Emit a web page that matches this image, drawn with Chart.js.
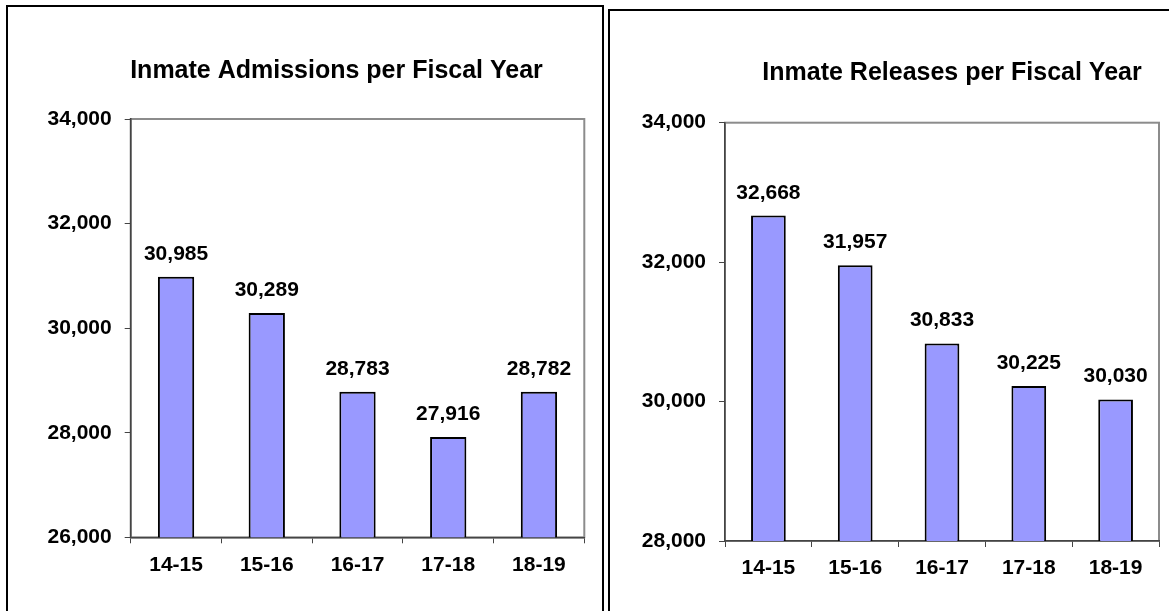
<!DOCTYPE html>
<html>
<head>
<meta charset="utf-8">
<script src="https://cdn.jsdelivr.net/npm/chart.js@4.4.1/dist/chart.umd.min.js"></script>
<style>
  html, body { margin: 0; padding: 0; background: #fff; width: 1169px; height: 611px; overflow: hidden; position: relative; }
  .box { position: absolute; border: 2px solid #000; box-sizing: border-box; }
  #boxL { left: 6px; top: 5px; width: 598px; height: 700px; }
  #boxR { left: 608px; top: 9px; width: 700px; height: 700px; }
  .wrap { position: absolute; }
  #wrapL { left: 8px; top: 8px; width: 592px; height: 603px; }
  #wrapR { left: 611px; top: 11px; width: 558px; height: 600px; }
</style>
</head>
<body>
<div class="box" id="boxL"></div>
<div class="box" id="boxR"></div>
<div class="wrap" id="wrapL"><canvas id="cL"></canvas></div>
<div class="wrap" id="wrapR"><canvas id="cR"></canvas></div>
<script>
const categories = ['14-15', '15-16', '16-17', '17-18', '18-19'];
const admissions = [30985, 30289, 28783, 27916, 28782];
const releases = [32668, 31957, 30833, 30225, 30030];
const titleAdmissions = 'Inmate Admissions per Fiscal Year';
const titleReleases = 'Inmate Releases per Fiscal Year';
const admissionsTicks = { min: 26000, max: 34000, step: 2000 };
const releasesTicks = { min: 28000, max: 34000, step: 2000 };

Chart.defaults.font.family = "'Liberation Sans', Arial, sans-serif";
Chart.defaults.font.weight = 'bold';
Chart.defaults.font.size = 21;
Chart.defaults.color = '#000';

const fmt = v => Number(v).toLocaleString('en-US');

const framePlugin = {
  id: 'frame',
  beforeDraw(chart) {
    const a = chart.chartArea, ctx = chart.ctx;
    ctx.save();
    ctx.strokeStyle = '#8c8c8c';
    ctx.lineWidth = 2;
    ctx.strokeRect(a.left, a.top, a.right - a.left, a.bottom - a.top);
    ctx.restore();
  }
};

const valueLabels = {
  id: 'valueLabels',
  afterDatasetsDraw(chart) {
    const ctx = chart.ctx;
    ctx.save();
    ctx.font = "bold 21px 'Liberation Sans', Arial, sans-serif";
    ctx.fillStyle = '#000';
    ctx.textAlign = 'center';
    ctx.textBaseline = 'alphabetic';
    chart.data.datasets.forEach((ds, i) => {
      chart.getDatasetMeta(i).data.forEach((bar, j) => {
        ctx.fillText(fmt(ds.data[j]), bar.x, bar.y - 17);
      });
    });
    ctx.restore();
  }
};

const panelTitle = {
  id: 'panelTitle',
  afterDraw(chart, args, opts) {
    const ctx = chart.ctx;
    ctx.save();
    ctx.font = "bold 25px 'Liberation Sans', Arial, sans-serif";
    ctx.fillStyle = '#000';
    ctx.textAlign = 'center';
    ctx.textBaseline = 'alphabetic';
    ctx.fillText(opts.text, opts.x, opts.y);
    ctx.restore();
  }
};

function makeChart(id, values, title, ticks, geom) {
  return new Chart(document.getElementById(id), {
    type: 'bar',
    data: {
      labels: categories,
      datasets: [{
        data: values,
        backgroundColor: '#9999ff',
        borderColor: '#000',
        borderWidth: 2,
        borderSkipped: false,
        categoryPercentage: 1.0,
        barPercentage: 0.4
      }]
    },
    plugins: [framePlugin, valueLabels, panelTitle],
    options: {
      responsive: true,
      maintainAspectRatio: false,
      animation: false,
      layout: { padding: { left: 0, right: geom.padRight, top: geom.padTop, bottom: geom.padBottom } },
      plugins: {
        legend: { display: false },
        tooltip: { enabled: false },
        title: { display: false },
        panelTitle: { text: title, x: geom.titleX, y: geom.titleY }
      },
      scales: {
        x: {
          grid: { drawOnChartArea: false, drawTicks: true, tickLength: 6, color: '#444', offset: true },
          border: { display: true, color: '#444', width: 1.5 },
          ticks: { padding: 9, font: { size: 21, weight: 'bold' }, color: '#000', maxRotation: 0 },
          afterFit(scale) { scale.height = 40; }
        },
        y: {
          min: ticks.min,
          max: ticks.max,
          grid: { drawOnChartArea: false, drawTicks: true, tickLength: 6, color: '#444' },
          border: { display: true, color: '#444', width: 1.5 },
          ticks: { stepSize: ticks.step, padding: 13, font: { size: 21, weight: 'bold' }, color: '#000', callback: v => fmt(v) },
          afterFit(scale) { scale.width = geom.yWidth; }
        }
      }
    }
  });
}

makeChart('cL', admissions, titleAdmissions, admissionsTicks,
  { padRight: 15.7, padTop: 111, padBottom: 33.7, yWidth: 122.7, titleX: 328.5, titleY: 70 });
makeChart('cR', releases, titleReleases, releasesTicks,
  { padRight: 10, padTop: 111.7, padBottom: 30, yWidth: 114, titleX: 341, titleY: 69 });
</script>
</body>
</html>
